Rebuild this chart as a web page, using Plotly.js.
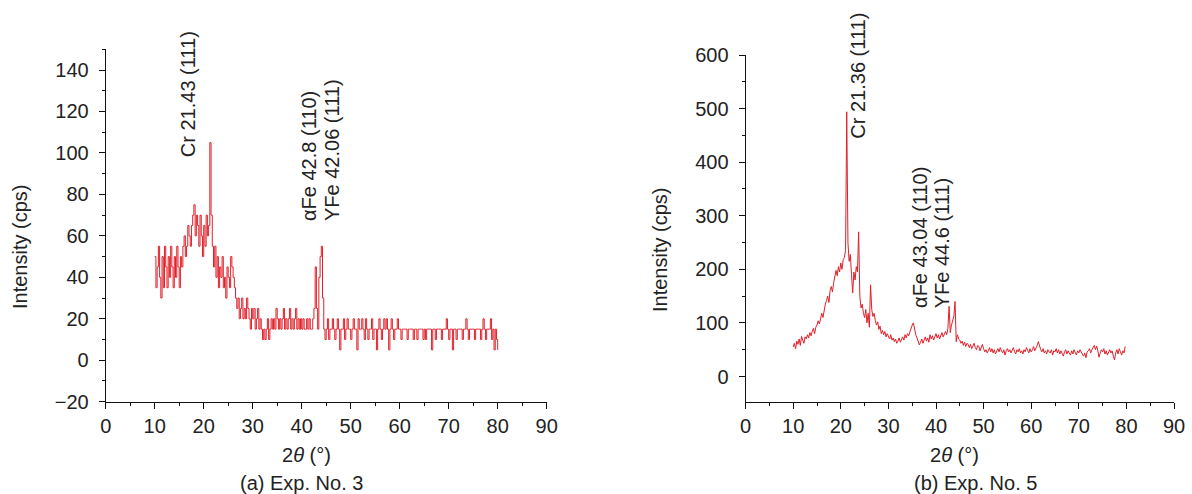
<!DOCTYPE html>
<html>
<head>
<meta charset="utf-8">
<script src="https://cdn.plot.ly/plotly-3.0.1.min.js"></script>
<style>html,body{margin:0;padding:0;background:#fff;}#chart{width:1192px;height:494px;}</style>
</head>
<body>
<div id="chart"></div>
<script>
// 2θ scan grid (degrees) for both experiments
const scanStart = 10;
const scanStep = 0.25;

// (a) Exp. No. 3 — intensity (cps), one row per degree from 10° to 80°
const intensityExp3 = [
  50,35,45,55, 40,30,50,35, 55,45,35,50, 40,55,45,35, 50,40,55,45,
  35,50,45,55, 60,50,55,65, 60,55,65,70, 75,60,70,65, 55,70,60,50,
  65,55,70,60, 65,105,70,55, 45,55,40,50, 35,45,40,50, 35,40,30,45,
  40,35,50,45, 40,35,30,25, 30,20,25,30, 20,25,20,30, 25,20,15,25,
  20,25,15,20, 25,15,20,15, 10,15,10,15, 20,10,15,20, 15,20,15,25,
  20,15,20,15, 20,25,15,20, 15,20,25,15, 20,15,20,25, 15,20,15,20,
  15,20,15,15, 20,15,20,15, 15,20,25,45, 25,15,40,50, 55,30,15,10,
  15,20,10,15, 15,20,15,10, 15,20,15,5, 15,15,20,10, 15,20,15,15,
  10,15,20,15, 15,5,20,15, 15,20,15,10, 20,15,10,15, 15,20,10,15,
  15,5,15,20, 15,10,15,20, 15,20,15,5, 15,20,15,10, 15,15,20,15,
  15,10,15,15, 15,15,10,15, 15,15,15,10, 15,15,10,15, 15,15,15,10,
  15,10,15,15, 15,15,5,15, 15,10,15,15, 15,15,10,15, 15,15,20,15,
  10,15,15,5, 15,15,10,15, 15,15,15,10, 15,15,20,15, 10,15,15,15,
  15,10,15,15, 15,15,10,15, 20,15,10,15, 15,15,20,10, 15,5,15,10,
  5
];

// (b) Exp. No. 5 — intensity (cps), one row per degree from 10° to 79.75°
const intensityExp5 = [
  55,62,52,66, 60,70,58,75, 68,62,74,70, 78,72,82,76, 84,90,80,92,
  96,104,98,112, 118,110,128,135, 142,150,138,160, 168,158,175,185, 198,188,205,195,
  212,200,218,222, 235,494,250,215, 228,190,156,195, 180,205,195,270, 150,128,135,118,
  110,125,100,118, 92,171,125,112, 118,105,96,102, 88,94,80,86, 78,84,74,80,
  75,70,78,68, 72,65,70,62, 66,72,64,70, 74,68,78,72, 80,76,84,90,
  96,100,88,78, 72,66,59,64, 70,62,68,74, 66,72,64,78, 70,76,68,74,
  80,72,78,70, 76,82,74,80, 84,78,90,131, 82,96,104,112, 140,65,78,70,
  68,62,66,58, 64,56,62,60, 54,60,52,58, 62,54,50,58, 56,48,54,60,
  52,46,50,44, 48,54,46,52, 44,50,42,48, 52,46,54,48, 44,50,40,48,
  52,46,50,44, 48,54,46,42, 50,46,52,44, 48,42,50,46, 54,48,44,52,
  46,50,56,48, 52,58,65,54, 50,46,52,44, 48,42,50,46, 44,50,40,48,
  46,52,44,50, 42,48,44,38, 46,50,42,48, 44,40,48,42, 50,46,40,48,
  44,50,46,42, 38,44,35,46, 48,52,44,50, 54,58,50,57, 48,36,44,50,
  46,52,42,48, 40,46,50,44, 48,38,31,44, 50,42,52,46, 40,48,44,56
];

// Peak labels: [text, 2θ position, intensity position]
const peakLabelsExp3 = [
  ["Cr 21.43 (111)", 16.8, 97],
  ["αFe 42.8 (110)", 41.6, 66],
  ["YFe 42.06 (111)", 46.3, 66]
];
const peakLabelsExp5 = [
  ["Cr 21.36 (111)", 23.6, 440],
  ["αFe 43.04 (110)", 36.5, 124],
  ["YFe 44.6 (111)", 41.3, 124]
];

const xTickVals = [0,10,20,30,40,50,60,70,80,90];

function grid(n){ const a=[]; for(let i=0;i<n;i++) a.push(scanStart + i*scanStep); return a; }

const red = '#e0202a';
const font = {family: 'Liberation Sans, Arial, sans-serif', size: 20, color: '#222'};

const traces = [
  {x: grid(intensityExp3.length), y: intensityExp3, type: 'scatter', mode: 'lines',
   line: {color: red, width: 1, shape: 'hv'}, xaxis: 'x', yaxis: 'y', hoverinfo: 'skip'},
  {x: grid(intensityExp5.length), y: intensityExp5, type: 'scatter', mode: 'lines',
   line: {color: red, width: 1}, xaxis: 'x2', yaxis: 'y2', hoverinfo: 'skip'}
];

const W = 1192, H = 494;
function px(x){ return x / W; }
function py(y){ return 1 - y / H; }

const axisCommon = {
  showline: true, linecolor: '#111', linewidth: 1, mirror: false,
  ticks: 'outside', ticklen: 6, tickwidth: 1, tickcolor: '#111',
  showgrid: false, zeroline: false, tickfont: font, fixedrange: true
};

const layout = {
  width: W, height: H,
  margin: {l: 0, r: 0, t: 0, b: 0},
  paper_bgcolor: '#fff', plot_bgcolor: '#fff',
  showlegend: false,
  font: font,
  xaxis: Object.assign({}, axisCommon, {
    domain: [px(105.7), px(546.7)], range: [0, 90],
    tickvals: xTickVals, minor: {dtick: 5, tick0: 0, ticks: 'outside', ticklen: 3, tickcolor: '#111'},
    anchor: 'y'
  }),
  yaxis: Object.assign({}, axisCommon, {
    domain: [py(401.7), py(49.3)], range: [-20, 150],
    tick0: -20, dtick: 20, minor: {dtick: 10, tick0: 0, ticks: 'outside', ticklen: 3, tickcolor: '#111'},
    anchor: 'x', ticklabelstandoff: 6
  }),
  xaxis2: Object.assign({}, axisCommon, {
    domain: [px(745.6), px(1174)], range: [0, 90],
    tickvals: xTickVals, minor: {dtick: 5, tick0: 0, ticks: 'outside', ticklen: 3, tickcolor: '#111'},
    anchor: 'y2'
  }),
  yaxis2: Object.assign({}, axisCommon, {
    domain: [py(401.7), py(55)], range: [-47, 600],
    tick0: 0, dtick: 100, minor: {dtick: 50, tick0: 0, ticks: 'outside', ticklen: 3, tickcolor: '#111'},
    anchor: 'x2', ticklabelstandoff: 6
  }),
  annotations: []
};

peakLabelsExp3.forEach(p => layout.annotations.push({
  text: p[0], x: p[1], y: p[2], xref: 'x', yref: 'y', showarrow: false,
  textangle: -90, xanchor: 'center', yanchor: 'bottom', font: font
}));
peakLabelsExp5.forEach(p => layout.annotations.push({
  text: p[0], x: p[1], y: p[2], xref: 'x2', yref: 'y2', showarrow: false,
  textangle: -90, xanchor: 'center', yanchor: 'bottom', font: font
}));

const textLabels = [
  ['Intensity (cps)', 20, 247, -90],
  ['Intensity (cps)', 660, 250, -90],
  ['2<i>θ</i> (°)', 306.7, 455, 0],
  ['2<i>θ</i> (°)', 954, 455, 0],
  ['(a) Exp. No. 3', 301.5, 483, 0],
  ['(b) Exp. No. 5', 975, 483, 0]
];
textLabels.forEach(t => layout.annotations.push({
  text: t[0], x: px(t[1]), y: py(t[2]), xref: 'paper', yref: 'paper', showarrow: false,
  textangle: t[3], xanchor: 'center', yanchor: 'middle', font: font
}));

Plotly.newPlot('chart', traces, layout, {displayModeBar: false, staticPlot: true});
</script>
</body>
</html>
